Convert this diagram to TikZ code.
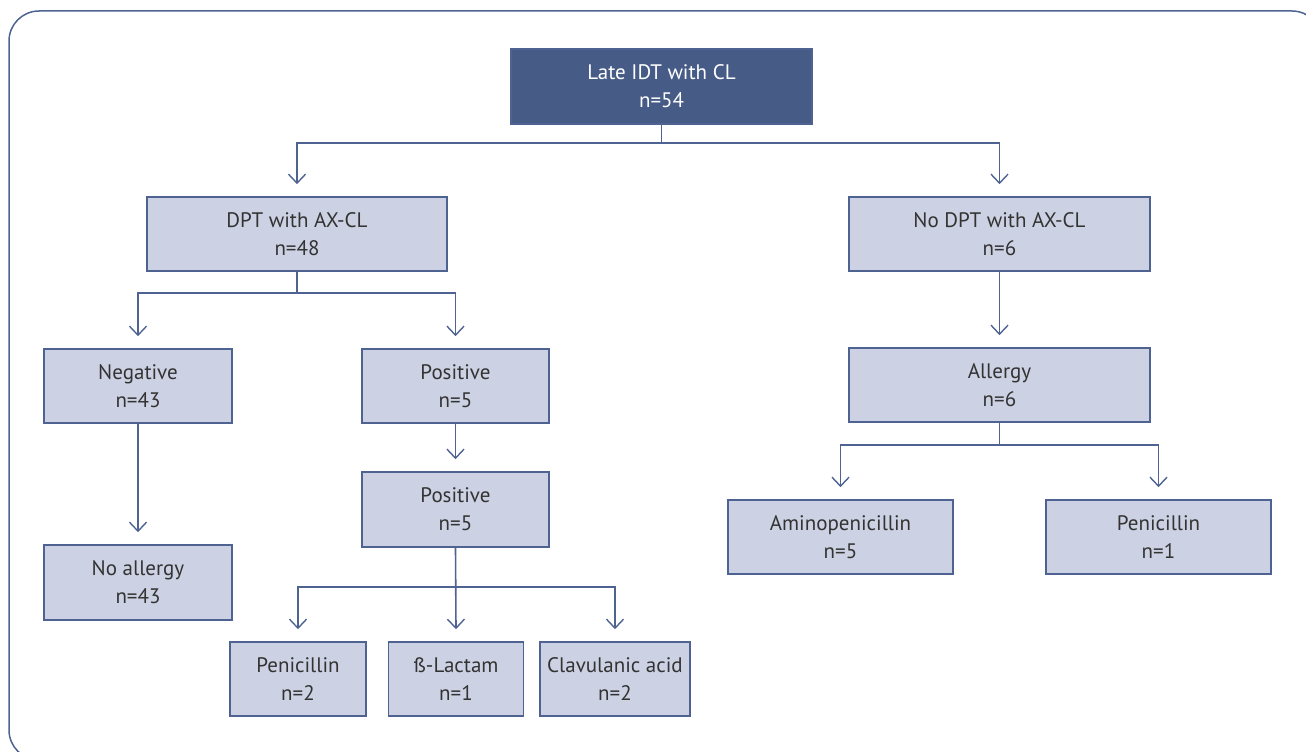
\documentclass[tikz,border=0pt]{standalone}
\usepackage{fontspec}
\setmainfont{PT Sans}
\usetikzlibrary{arrows.meta}
\definecolor{lineblue}{HTML}{4E6391}
\definecolor{darkbox}{HTML}{475B87}
\definecolor{lightbox}{HTML}{CCD2E3}
\definecolor{txt}{HTML}{333333}
\tikzset{
  box/.style={draw=lineblue, line width=1.6pt, fill=lightbox, text=txt, align=center,
    inner sep=0pt, minimum height=74pt, font=\fontsize{21}{28}\selectfont},
  topbox/.style={box, fill=darkbox, text=white},
  conn/.style={draw=lineblue, line width=1.6pt},
  arr/.style={conn, -{Straight Barb[length=9pt,width=17pt,line width=1.4pt]}},
}
\begin{document}
\begin{tikzpicture}[x=1pt,y=-1pt]
\useasboundingbox (0,0) rectangle (1306,752);
\begin{scope}
\clip (0,0) rectangle (1306,752);
\draw[lineblue, line width=1.5pt, rounded corners=30pt] (9,11) rectangle (1322,760);
\end{scope}
\node[topbox, minimum width=301pt, minimum height=75pt] (top) at (661.5,86.5) {Late IDT with CL\\n=54};
\node[box, minimum width=300pt] (dpt) at (297,234) {DPT with AX-CL\\n=48};
\node[box, minimum width=301pt] (nodpt) at (999.5,234) {No DPT with AX-CL\\n=6};
\node[box, minimum width=188pt] (neg) at (138,386) {Negative\\n=43};
\node[box, minimum width=187pt] (pos1) at (455.5,386) {Positive\\n=5};
\node[box, minimum width=187pt, minimum height=75pt] (pos2) at (455.5,509.5) {Positive\\n=5};
\node[box, minimum width=188pt, minimum height=75pt] (noall) at (138,582.5) {No allergy\\n=43};
\node[box, minimum width=301pt] (allergy) at (999.5,385) {Allergy\\n=6};
\node[box, minimum width=225pt] (amino) at (840.5,537) {Aminopenicillin\\n=5};
\node[box, minimum width=225pt] (penR) at (1158.5,537) {Penicillin\\n=1};
\node[box, minimum width=136pt] (pen) at (298,679) {Penicillin\\n=2};
\node[box, minimum width=135pt] (beta) at (456,679) {ß-Lactam\\n=1};
\node[box, minimum width=150pt] (clav) at (615,679) {Clavulanic acid\\n=2};
% top split
\coordinate (j1) at (top.south |- 0,143);
\draw[conn] (top.south) -- (j1);
\draw[arr] (j1) -| ([yshift=12pt]dpt.north);
\draw[arr] (j1) -| ([yshift=12pt]nodpt.north);
% dpt split
\coordinate (j2) at (dpt.south |- 0,293);
\draw[conn] (dpt.south) -- (j2);
\draw[arr] (j2) -| ([yshift=12pt]neg.north);
\draw[arr] (j2) -| ([yshift=12pt]pos1.north);
% straight arrows
\draw[arr] (neg.south) -- ([yshift=12pt]noall.north);
\draw[arr] (pos1.south) -- ([yshift=12pt]pos2.north);
\draw[arr] (nodpt.south) -- ([yshift=12pt]allergy.north);
% allergy split
\coordinate (j3) at (allergy.south |- 0,445);
\draw[conn] (allergy.south) -- (j3);
\draw[arr] (j3) -| ([yshift=12pt]amino.north);
\draw[arr] (j3) -| ([yshift=12pt]penR.north);
% pos2 split
\coordinate (j4) at (pos2.south |- 0,587);
\draw[arr] (pos2.south) -- ([yshift=12pt]beta.north);
\draw[arr] (j4) -| ([yshift=12pt]pen.north);
\draw[arr] (j4) -| ([yshift=12pt]clav.north);
\end{tikzpicture}
\end{document}
